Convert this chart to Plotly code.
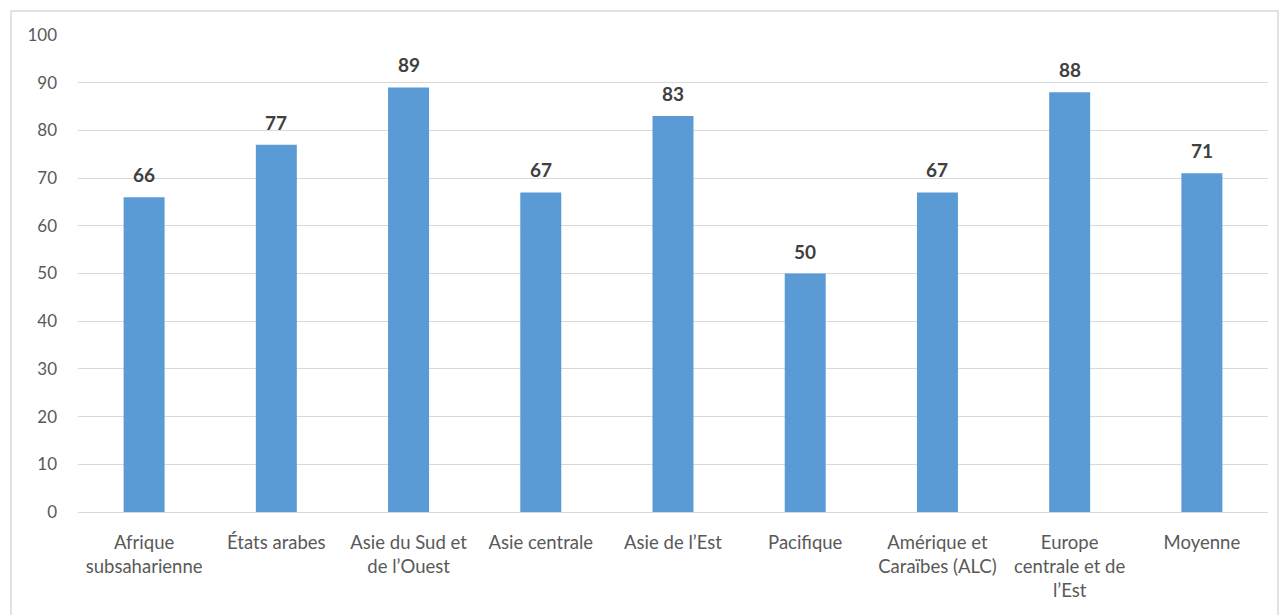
import plotly.graph_objects as go

# Regions and their values (percent)
regions = [
    "Afrique<br>subsaharienne",
    "États arabes",
    "Asie du Sud et<br>de l’Ouest",
    "Asie centrale",
    "Asie de l’Est",
    "Pacifique",
    "Amérique et<br>Caraïbes (ALC)",
    "Europe<br>centrale et de<br>l’Est",
    "Moyenne",
]
values = [66, 77, 89, 67, 83, 50, 67, 88, 71]
y_ticks = [0, 10, 20, 30, 40, 50, 60, 70, 80, 90, 100]

FONT = "Lato, Open Sans, sans-serif"

fig = go.Figure(
    go.Bar(
        x=regions,
        y=values,
        marker=dict(color="#5B9BD5", line=dict(width=0)),
        width=0.31,
        hoverinfo="x+y",
    )
)

# Bold value labels above each bar
for r, v in zip(regions, values):
    fig.add_annotation(
        x=r,
        y=v,
        text=f"<b>{v}</b>",
        showarrow=False,
        yanchor="bottom",
        yshift=9,
        font=dict(family=FONT, size=19, color="#404040"),
    )

fig.update_layout(
    width=1281,
    height=615,
    margin=dict(l=78, r=13, t=35, b=103),
    paper_bgcolor="white",
    plot_bgcolor="white",
    showlegend=False,
    font=dict(family=FONT, color="#595959", size=17),
    xaxis=dict(
        showgrid=False,
        showline=False,
        ticks="",
        tickangle=0,
        ticklabelstandoff=17,
        tickfont=dict(size=18.5, color="#595959"),
    ),
    yaxis=dict(
        range=[0, 100],
        tickvals=y_ticks,
        showgrid=True,
        gridcolor="#D9D9D9",
        gridwidth=1,
        zeroline=True,
        zerolinecolor="#D9D9D9",
        zerolinewidth=1,
        showline=False,
        ticks="",
        ticklabelstandoff=20,
        tickfont=dict(size=17, color="#595959"),
    ),
    shapes=[
        dict(
            type="rect",
            xref="paper",
            yref="paper",
            x0=-0.0563,
            x1=1.0084,
            y0=-0.23,
            y1=1.0503,
            line=dict(color="#D9D9D9", width=1.5),
            fillcolor="rgba(0,0,0,0)",
            layer="below",
        )
    ],
)

fig.write_html("out.html")
